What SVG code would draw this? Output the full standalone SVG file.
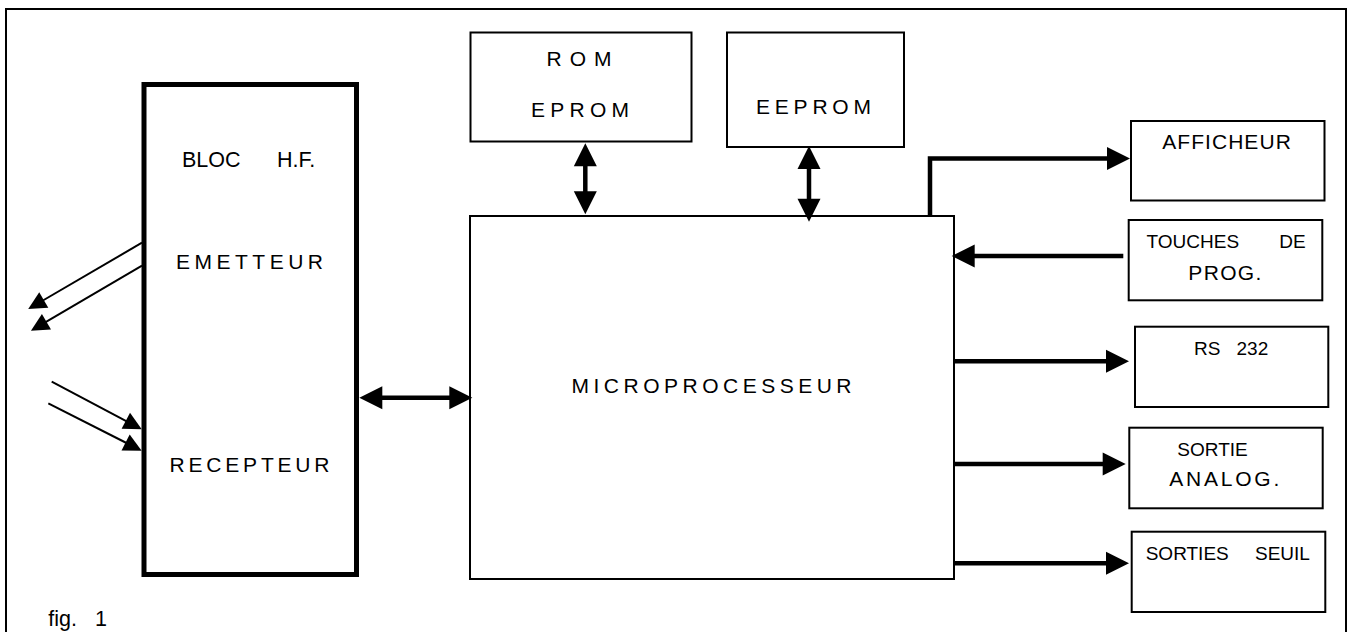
<svg xmlns="http://www.w3.org/2000/svg" width="1349" height="632" viewBox="0 0 1349 632">
  <style>
    .box { fill: #fff; stroke: #000; stroke-width: 2; }
    .thickbox { fill: #fff; stroke: #000; stroke-width: 5; }
    .bus { fill: none; stroke: #000; stroke-width: 4.5; stroke-linejoin: miter; }
    .ray { fill: none; stroke: #000; stroke-width: 2; }
    text { font-family: "Liberation Sans", Arial, sans-serif; fill: #000; }
    .lbl { font-size: 19px; }
    .wide { font-size: 21px; }
    .big { font-size: 21.5px; }
  </style>
  <defs>
    <marker id="head" markerUnits="userSpaceOnUse" markerWidth="24" markerHeight="24" refX="1" refY="11.5" orient="auto-start-reverse" overflow="visible">
      <path d="M0,0 L23,11.5 L0,23 z" fill="#000"/>
    </marker>
    <marker id="tip" markerUnits="userSpaceOnUse" markerWidth="19" markerHeight="19" refX="1" refY="9" orient="auto" overflow="visible">
      <path d="M0,0 L18,9 L0,18 z" fill="#000"/>
    </marker>
  </defs>

  <!-- page frame -->
  <path d="M6,640 V9 H1346 V640" fill="none" stroke="#000" stroke-width="2"/>

  <g id="bloc-hf">
    <rect class="thickbox" x="144" y="84.5" width="212.5" height="490"/>
    <text class="big" x="182" y="167">BLOC<tspan x="277">H.F.</tspan></text>
    <text class="wide" x="176" y="268.5" textLength="147" lengthAdjust="spacing">EMETTEUR</text>
    <text class="wide" x="169.5" y="471.5" textLength="160" lengthAdjust="spacing">RECEPTEUR</text>
  </g>

  <g id="rom">
    <rect class="box" x="470.5" y="32.5" width="221" height="109"/>
    <text class="wide" x="546.5" y="65.5" textLength="65" lengthAdjust="spacing">ROM</text>
    <text class="wide" x="531" y="117.3" textLength="98" lengthAdjust="spacing">EPROM</text>
  </g>

  <g id="eeprom">
    <rect class="box" x="727" y="32.5" width="177" height="114.5"/>
    <text class="wide" x="756" y="114.3" textLength="115" lengthAdjust="spacing">EEPROM</text>
  </g>

  <g id="microprocesseur">
    <rect class="box" x="470" y="216" width="484" height="363"/>
    <text class="wide" x="571.5" y="392.5" textLength="280" lengthAdjust="spacing">MICROPROCESSEUR</text>
  </g>

  <g id="afficheur">
    <rect class="box" x="1131" y="121" width="193.5" height="79.5"/>
    <text class="wide" x="1162.3" y="149.3" textLength="128.5" lengthAdjust="spacing">AFFICHEUR</text>
  </g>

  <g id="touches">
    <rect class="box" x="1128.7" y="220" width="193.6" height="80.3"/>
    <text class="lbl" x="1146.5" y="248">TOUCHES<tspan x="1279.3">DE</tspan></text>
    <text class="wide" x="1188.3" y="280" textLength="73" lengthAdjust="spacing">PROG.</text>
  </g>

  <g id="rs232">
    <rect class="box" x="1135" y="326.7" width="193.3" height="80.3"/>
    <text class="lbl" x="1194" y="355">RS<tspan x="1236.5">232</tspan></text>
  </g>

  <g id="sortie-analog">
    <rect class="box" x="1129.3" y="427.7" width="193.4" height="80.6"/>
    <text class="lbl" x="1177.3" y="456">SORTIE</text>
    <text class="wide" x="1169.3" y="485.7" textLength="110" lengthAdjust="spacing">ANALOG.</text>
  </g>

  <g id="sorties-seuil">
    <rect class="box" x="1131.7" y="531.7" width="193.6" height="80.3"/>
    <text class="lbl" x="1145.7" y="560">SORTIES<tspan x="1255">SEUIL</tspan></text>
  </g>

  <g id="caption">
    <text class="big" x="48.3" y="625.7">fig.<tspan x="95">1</tspan></text>
  </g>

  <g id="connectors">
    <!-- memory buses -->
    <path class="bus" d="M585.3,165.3 V192.3" marker-start="url(#head)" marker-end="url(#head)"/>
    <path class="bus" d="M809,168 V199.7" marker-start="url(#head)" marker-end="url(#head)"/>
    <!-- HF block link -->
    <path class="bus" d="M381.3,397.7 H450.3" marker-start="url(#head)" marker-end="url(#head)"/>
    <!-- peripherals -->
    <path class="bus" d="M930,216 V158.5 H1108" marker-end="url(#head)"/>
    <path class="bus" d="M1123.3,256 H973.7" marker-end="url(#head)"/>
    <path class="bus" d="M954,361.3 H1107" marker-end="url(#head)"/>
    <path class="bus" d="M954,464 H1103.7" marker-end="url(#head)"/>
    <path class="bus" d="M954,563.3 H1107" marker-end="url(#head)"/>
    <!-- radio emission / reception -->
    <path class="ray" d="M142,242.7 L42.9,300.5" marker-end="url(#tip)"/>
    <path class="ray" d="M142,265.7 L45.6,322.2" marker-end="url(#tip)"/>
    <path class="ray" d="M51.7,381.7 L126.7,421.3" marker-end="url(#tip)"/>
    <path class="ray" d="M48.3,403.3 L126.5,443" marker-end="url(#tip)"/>
  </g>
</svg>
